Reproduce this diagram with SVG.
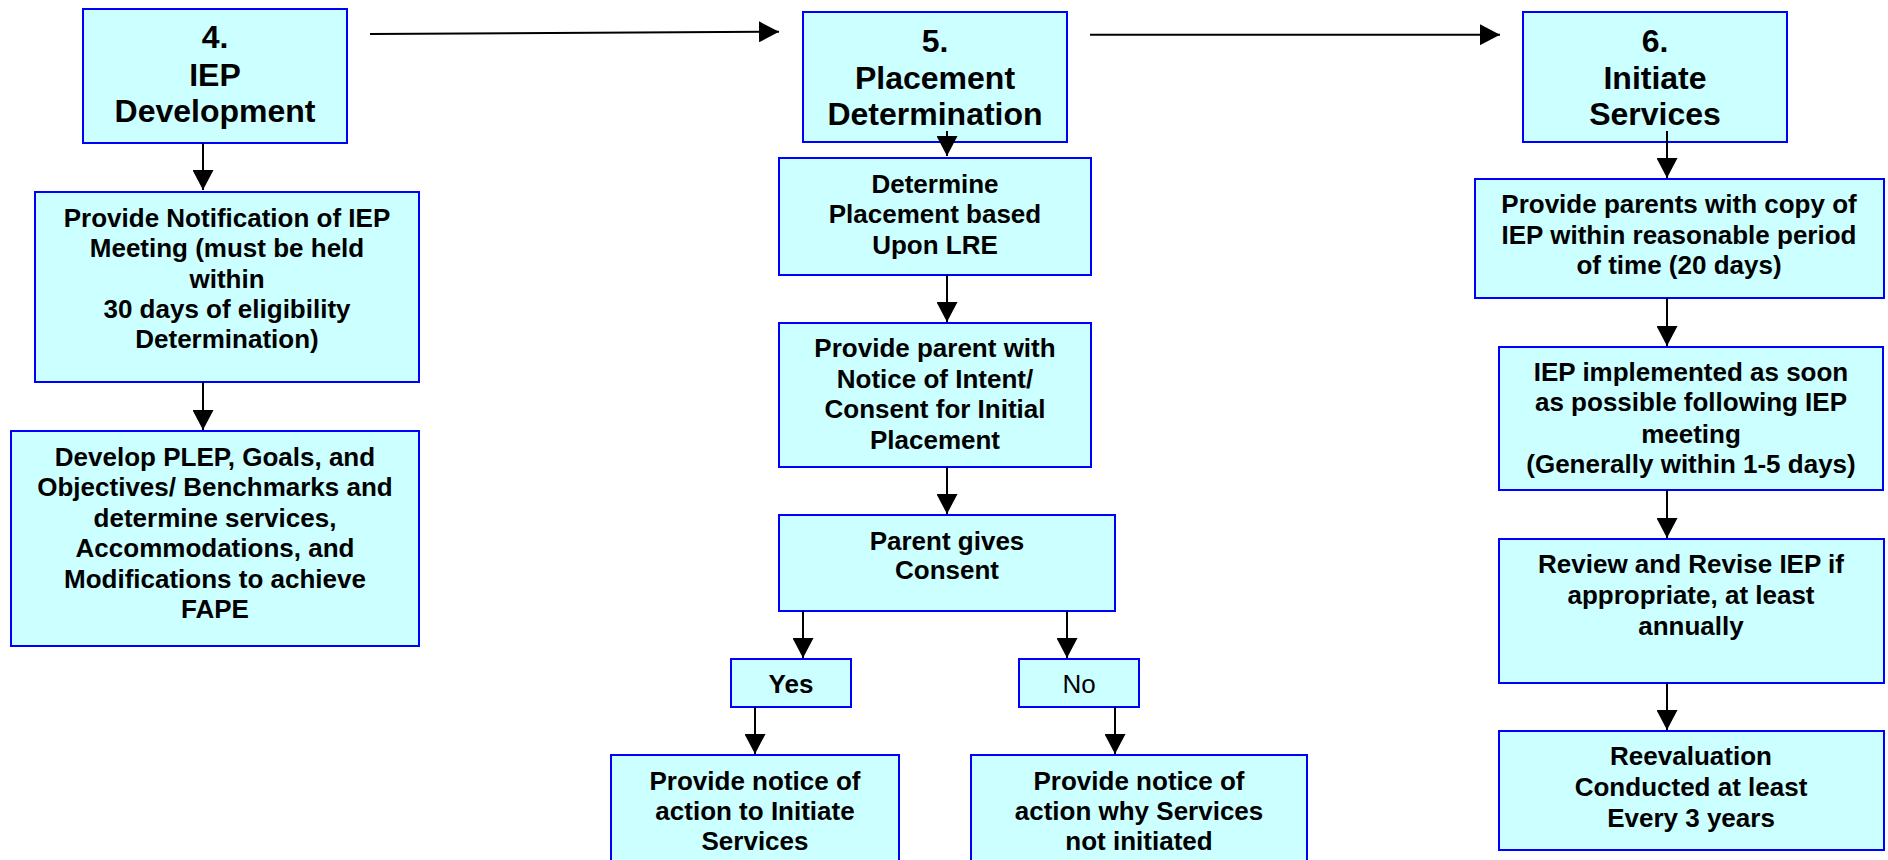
<svg xmlns="http://www.w3.org/2000/svg" width="1888" height="860" viewBox="0 0 1888 860">
<style>
.box{fill:#CCFFFF;stroke:#0000FF;stroke-width:2}
.t{font-family:"Liberation Sans",Arial,sans-serif;font-weight:bold;font-size:26px;fill:#000;text-anchor:middle}
.h{font-size:32px}
.n{font-weight:normal}
.c{stroke:#000;stroke-width:2;fill:none;marker-end:url(#ah)}
</style>
<defs>
<marker id="ah" markerUnits="userSpaceOnUse" markerWidth="20" markerHeight="21" refX="20" refY="10.5" orient="auto" viewBox="0 0 20 21">
<path d="M0,0 L20,10.5 L0,21 z" fill="#000"/>
</marker>
</defs>
<rect width="1888" height="860" fill="#fff"/>
<g id="n4"><rect class="box" x="83" y="9" width="264" height="134"/>
<text class="t h" x="215" y="48">4.</text><text class="t h" x="215" y="86">IEP</text><text class="t h" x="215" y="122">Development</text></g>
<g id="notify"><rect class="box" x="35" y="192" width="384" height="190"/>
<text class="t" x="227" y="227">Provide Notification of IEP</text><text class="t" x="227" y="257">Meeting (must be held</text><text class="t" x="227" y="287.5">within</text><text class="t" x="227" y="318">30 days of eligibility</text><text class="t" x="227" y="348">Determination)</text></g>
<g id="develop"><rect class="box" x="11" y="431" width="408" height="215"/>
<text class="t" x="215" y="466">Develop PLEP, Goals, and</text><text class="t" x="215" y="496">Objectives/ Benchmarks and</text><text class="t" x="215" y="527">determine services,</text><text class="t" x="215" y="557">Accommodations, and</text><text class="t" x="215" y="587.5">Modifications to achieve</text><text class="t" x="215" y="618">FAPE</text></g>
<g id="n5"><rect class="box" x="803" y="12" width="264" height="130"/>
<text class="t h" x="935" y="52">5.</text><text class="t h" x="935" y="89">Placement</text><text class="t h" x="935" y="125">Determination</text></g>
<g id="determine"><rect class="box" x="779" y="158" width="312" height="117"/>
<text class="t" x="935" y="193">Determine</text><text class="t" x="935" y="223">Placement based</text><text class="t" x="935" y="254">Upon LRE</text></g>
<g id="notice"><rect class="box" x="779" y="323" width="312" height="144"/>
<text class="t" x="935" y="357">Provide parent with</text><text class="t" x="935" y="387.5">Notice of Intent/</text><text class="t" x="935" y="418">Consent for Initial</text><text class="t" x="935" y="449">Placement</text></g>
<g id="consent"><rect class="box" x="779" y="515" width="336" height="96"/>
<text class="t" x="947" y="549.5">Parent gives</text><text class="t" x="947" y="579">Consent</text></g>
<g id="yes"><rect class="box" x="731" y="659" width="120" height="48"/><text class="t" x="791" y="693">Yes</text></g>
<g id="no"><rect class="box" x="1019" y="659" width="120" height="48"/><text class="t n" x="1079" y="693">No</text></g>
<g id="yesaction"><rect class="box" x="611" y="755" width="288" height="120"/>
<text class="t" x="755" y="789.5">Provide notice of</text><text class="t" x="755" y="819.5">action to Initiate</text><text class="t" x="755" y="850">Services</text></g>
<g id="noaction"><rect class="box" x="971" y="755" width="336" height="120"/>
<text class="t" x="1139" y="789.5">Provide notice of</text><text class="t" x="1139" y="819.5">action why Services</text><text class="t" x="1139" y="850">not initiated</text></g>
<g id="n6"><rect class="box" x="1523" y="12" width="264" height="130"/>
<text class="t h" x="1655" y="52">6.</text><text class="t h" x="1655" y="89">Initiate</text><text class="t h" x="1655" y="125">Services</text></g>
<g id="copy"><rect class="box" x="1475" y="179" width="409" height="119"/>
<text class="t" x="1679" y="213">Provide parents with copy of</text><text class="t" x="1679" y="244">IEP within reasonable period</text><text class="t" x="1679" y="274">of time (20 days)</text></g>
<g id="implement"><rect class="box" x="1499" y="347" width="384" height="143"/>
<text class="t" x="1691" y="381">IEP implemented as soon</text><text class="t" x="1691" y="411">as possible following IEP</text><text class="t" x="1691" y="443">meeting</text><text class="t" x="1691" y="473">(Generally within 1-5 days)</text></g>
<g id="review"><rect class="box" x="1499" y="539" width="385" height="144"/>
<text class="t" x="1691" y="573">Review and Revise IEP if</text><text class="t" x="1691" y="604">appropriate, at least</text><text class="t" x="1691" y="635">annually</text></g>
<g id="reeval"><rect class="box" x="1499" y="731" width="385" height="119"/>
<text class="t" x="1691" y="765">Reevaluation</text><text class="t" x="1691" y="796">Conducted at least</text><text class="t" x="1691" y="827">Every 3 years</text></g>
<g id="connectors">
<line class="c" x1="370" y1="34" x2="779" y2="31.7"/>
<line class="c" x1="1090" y1="34.7" x2="1500" y2="34.7"/>
<line class="c" x1="203" y1="143" x2="203" y2="190"/>
<line class="c" x1="203" y1="382" x2="203" y2="430"/>
<line class="c" x1="947" y1="131" x2="947" y2="156"/>
<line class="c" x1="947" y1="275" x2="947" y2="322"/>
<line class="c" x1="947" y1="467" x2="947" y2="514"/>
<line class="c" x1="803" y1="611" x2="803" y2="658"/>
<line class="c" x1="1067" y1="611" x2="1067" y2="658"/>
<line class="c" x1="755" y1="707" x2="755" y2="754"/>
<line class="c" x1="1115" y1="707" x2="1115" y2="754"/>
<line class="c" x1="1667" y1="131" x2="1667" y2="178"/>
<line class="c" x1="1667" y1="298" x2="1667" y2="346"/>
<line class="c" x1="1667" y1="490" x2="1667" y2="538"/>
<line class="c" x1="1667" y1="683" x2="1667" y2="730"/>
</g>
</svg>
